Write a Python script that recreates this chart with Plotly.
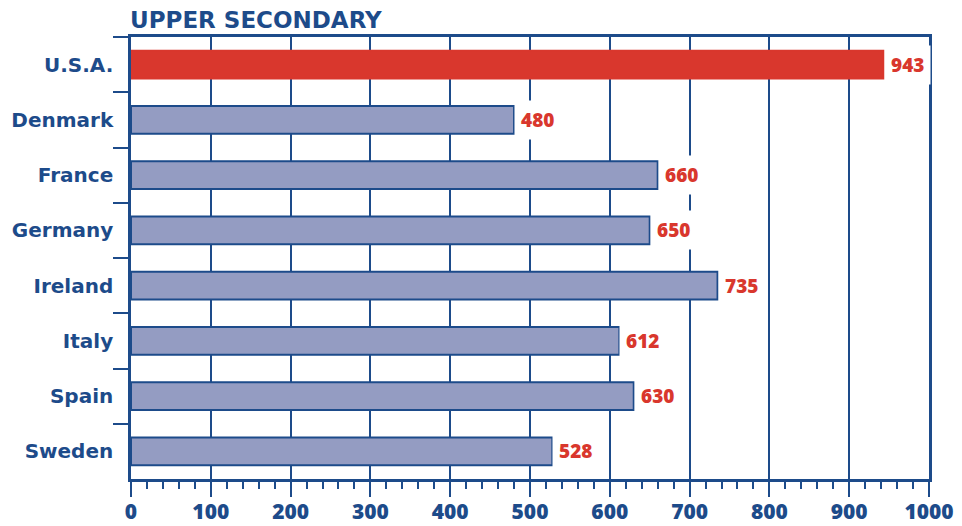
import plotly.graph_objects as go

countries = ["U.S.A.", "Denmark", "France", "Germany", "Ireland", "Italy", "Spain", "Sweden"]
values = [943, 480, 660, 650, 735, 612, 630, 528]
x_ticks = [0, 100, 200, 300, 400, 500, 600, 700, 800, 900, 1000]
title_text = "UPPER SECONDARY"

DARK = "#1d4b8a"
RED = "#d9372d"
BAR = "#949cc2"
FONT = "Open Sans"
LABEL_FONT = "DejaVu Sans"

fill = [RED if c == "U.S.A." else BAR for c in countries]
edge = [RED if c == "U.S.A." else DARK for c in countries]

fig = go.Figure()
fig.add_trace(go.Bar(
    y=countries, x=values, orientation="h",
    marker=dict(color=fill, line=dict(color=edge, width=2)),
    width=0.5, hoverinfo="skip",
))

for c, v in zip(countries, values):
    fig.add_annotation(
        x=v, y=c, xref="x", yref="y", text=str(v), showarrow=False,
        xanchor="left", xshift=0, bgcolor="white", borderpad=6,
        font=dict(family=FONT, size=19, color=RED, weight=800),
    )

fig.add_annotation(
    x=0, y=1, xref="paper", yref="paper", text=title_text, showarrow=False,
    xanchor="left", yanchor="bottom", yshift=2, xshift=-3,
    font=dict(family=LABEL_FONT, size=23, color=DARK, weight=700),
)

fig.update_layout(
    width=962, height=526,
    margin=dict(l=123, r=41, t=29, b=55),
    paper_bgcolor="white", plot_bgcolor="white",
    showlegend=False, bargap=0.5,
    xaxis=dict(
        range=[0, 1000], tickvals=x_ticks, ticktext=[str(t) for t in x_ticks],
        showgrid=True, gridcolor=DARK, gridwidth=1.5,
        showline=True, linecolor=DARK, linewidth=2.5, mirror=True,
        ticks="outside", ticklen=15, tickwidth=1.5, tickcolor=DARK,
        ticklabelstandoff=-3,
        minor=dict(dtick=20, ticks="outside", ticklen=7, tickwidth=1.5, tickcolor=DARK, showgrid=False),
        tickfont=dict(family=FONT, size=21, color=DARK, weight=800),
        zeroline=False, fixedrange=True, automargin=False,
    ),
    yaxis=dict(
        categoryorder="array", categoryarray=countries, autorange="reversed",
        showline=True, linecolor=DARK, linewidth=2.5, mirror=True,
        ticks="outside", tickson="boundaries", ticklen=15, tickwidth=1.5, tickcolor=DARK,
        ticklabelstandoff=11,
        tickfont=dict(family=LABEL_FONT, size=20, color=DARK, weight=700),
        showgrid=False, fixedrange=True, automargin=False,
    ),
)

fig.write_html("out.html")
